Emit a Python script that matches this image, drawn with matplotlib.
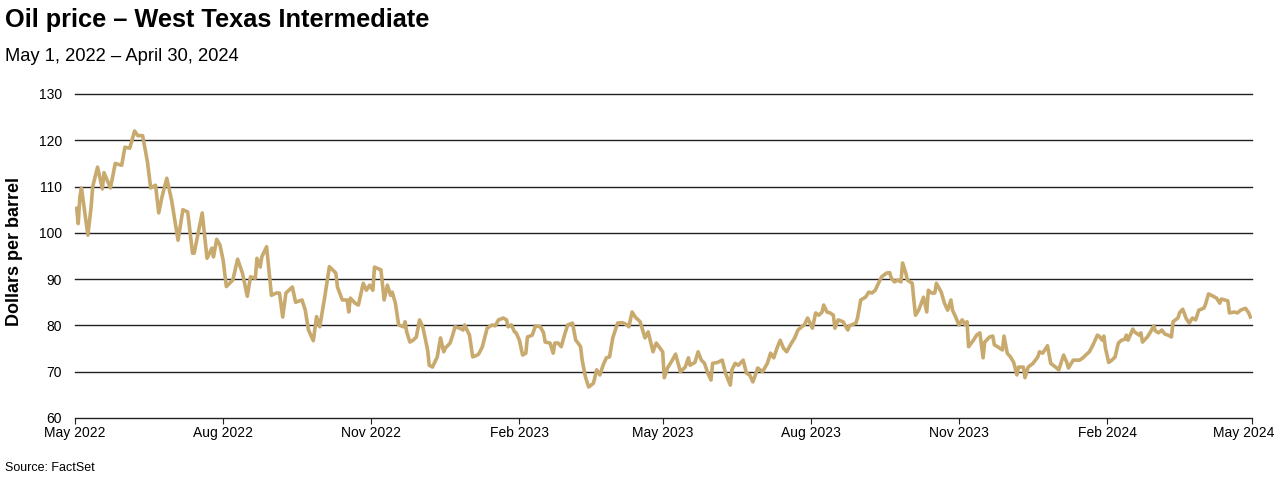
import numpy as np
import pandas as pd
import matplotlib
matplotlib.use('Agg')
import matplotlib.pyplot as plt
import matplotlib.dates as mdates

# days since 2022-05-01 and WTI close (USD per barrel)
days = [1, 2, 3, 4, 8, 10, 11, 14, 17, 18, 22, 25, 29, 31, 34, 37, 39, 42, 45, 47,
        50, 52, 54, 57, 60, 64, 67, 70, 73, 74, 79, 82, 85, 86, 88, 90, 92, 94, 98, 101,
        104, 107, 109, 112, 113, 115, 116, 119, 122, 125, 127, 129, 131, 135, 137, 141, 143, 145, 148, 150,
        152, 155, 158, 162, 163, 166, 169, 170, 171, 174, 176, 179, 181, 183, 185, 186, 190, 192, 194, 196,
        197, 199, 201, 204, 205, 206, 208, 210, 212, 214, 216, 219, 220, 222, 225, 227, 229, 230, 233, 235,
        236, 239, 241, 242, 245, 247, 250, 251, 253, 256, 259, 261, 263, 266, 268, 269, 271, 273, 274, 276,
        278, 280, 281, 284, 286, 289, 291, 292, 295, 297, 298, 300, 302, 304, 306, 309, 311, 312, 314, 315,
        317, 319, 322, 324, 326, 328, 330, 332, 334, 337, 340, 343, 344, 346, 348, 351, 354, 356, 359, 361,
        365, 366, 368, 371, 373, 376, 379, 381, 382, 385, 387, 389, 391, 393, 395, 396, 399, 402, 404, 407,
        408, 410, 412, 415, 417, 419, 421, 423, 424, 427, 430, 432, 434, 436, 438, 440, 442, 445, 447, 449,
        452, 453, 455, 458, 460, 462, 464, 465, 467, 469, 471, 472, 474, 477, 480, 481, 485, 486, 488, 491,
        493, 495, 497, 499, 501, 504, 506, 507, 509, 511, 513, 514, 516, 517, 520, 521, 522, 524, 527, 529,
        530, 532, 534, 535, 538, 540, 542, 544, 545, 547, 549, 551, 553, 554, 555, 558, 560, 562, 564, 565,
        568, 570, 571, 573, 576, 577, 579, 581, 583, 585, 586, 589, 590, 592, 595, 598, 599, 601, 604, 606,
        609, 611, 614, 616, 617, 620, 622, 624, 626, 629, 630, 632, 635, 636, 638, 639, 640, 642, 644, 646,
        648, 650, 652, 653, 654, 657, 658, 661, 662, 663, 666, 668, 670, 671, 673, 675, 677, 679, 681, 682,
        685, 686, 688, 690, 692, 694, 696, 698, 701, 702, 704, 707, 709, 711, 712, 716, 717, 720, 722, 724,
        727, 729, 730]
prices = [105.3, 102.0, 107.7, 109.7, 99.5, 105.6, 110.0, 114.2, 109.5, 113.0, 109.7, 115.0, 114.6, 118.5, 118.3, 122.0, 121.0, 121.0, 115.3, 109.7,
          110.3, 104.3, 107.7, 111.8, 107.0, 98.4, 105.0, 104.5, 95.6, 95.6, 104.3, 94.5, 96.7, 94.8, 98.6, 97.4, 94.1, 88.4, 89.8, 94.3,
          91.3, 86.3, 90.5, 90.2, 94.5, 92.6, 94.8, 97.0, 86.5, 87.0, 87.0, 81.8, 87.0, 88.3, 85.0, 85.5, 83.3, 79.0, 76.7, 81.9,
          79.7, 85.9, 92.7, 91.3, 88.3, 85.5, 85.5, 82.9, 85.9, 84.8, 84.4, 89.1, 87.6, 88.7, 87.6, 92.6, 92.0, 85.5, 88.7, 86.5,
          87.2, 84.8, 80.1, 79.7, 80.8, 78.6, 76.4, 76.8, 77.5, 81.2, 79.7, 74.7, 71.4, 71.0, 73.2, 77.3, 74.3, 75.1, 76.2, 78.4,
          79.7, 79.4, 79.0, 80.1, 77.9, 73.2, 73.6, 74.0, 75.4, 79.4, 80.1, 79.9, 81.2, 81.6, 81.2, 79.7, 80.1, 78.6, 78.4, 76.8,
          73.6, 74.0, 77.5, 77.9, 79.9, 79.7, 78.4, 76.4, 76.2, 74.0, 76.2, 76.2, 75.4, 77.9, 80.1, 80.5, 76.8, 76.4, 75.4, 72.5,
          68.9, 66.7, 67.5, 70.4, 69.3, 71.4, 73.0, 73.2, 77.3, 80.5, 80.6, 80.1, 79.7, 82.9, 81.8, 80.8, 77.3, 78.6, 74.3, 76.2,
          74.3, 68.7, 70.8, 72.5, 73.8, 70.0, 71.0, 73.0, 71.4, 72.0, 74.3, 72.5, 71.8, 69.7, 68.2, 71.8, 72.0, 72.5, 69.7, 67.1,
          70.4, 71.8, 71.4, 72.5, 69.7, 69.3, 67.8, 69.7, 70.8, 70.0, 71.8, 74.0, 73.0, 75.1, 76.8, 75.1, 74.3, 76.2, 77.3, 79.0,
          79.9, 80.1, 81.6, 79.4, 82.7, 82.2, 82.9, 84.4, 82.9, 82.7, 82.2, 79.4, 81.2, 80.8, 79.0, 79.9, 80.5, 81.6, 85.5, 86.1,
          87.2, 87.0, 87.6, 89.1, 90.5, 91.3, 91.4, 90.2, 89.4, 89.8, 89.4, 93.5, 91.3, 89.8, 89.1, 85.5, 82.2, 83.3, 86.1, 82.9,
          87.6, 87.0, 87.0, 89.1, 87.2, 84.8, 83.3, 85.5, 83.3, 81.8, 80.1, 81.2, 80.1, 80.8, 75.4, 76.8, 77.9, 78.4, 73.0, 76.4,
          77.5, 77.7, 75.8, 75.4, 74.7, 77.7, 74.0, 73.2, 72.0, 69.3, 71.0, 71.0, 68.7, 71.0, 71.8, 73.2, 74.3, 74.0, 75.6, 71.8,
          71.0, 70.4, 73.6, 72.0, 70.8, 72.5, 72.5, 72.5, 73.0, 74.0, 74.3, 75.6, 77.9, 77.7, 76.8, 77.7, 75.1, 72.0, 72.5, 73.2,
          76.2, 76.8, 77.0, 77.9, 76.8, 79.2, 78.6, 77.9, 78.4, 76.4, 77.5, 78.6, 79.9, 78.8, 78.4, 79.0, 78.1, 77.9, 77.5, 80.8,
          81.6, 82.7, 83.5, 81.6, 80.5, 81.6, 81.2, 83.3, 83.7, 84.4, 86.8, 86.3, 85.9, 84.8, 85.7, 85.3, 82.7, 82.9, 82.7, 83.3,
          83.7, 82.7, 81.8]

tick_dates = ['2022-05-01', '2022-08-01', '2022-11-01', '2023-02-01', '2023-05-01',
              '2023-08-01', '2023-11-01', '2024-02-01', '2024-05-01']
tick_labels = ['May 2022', 'Aug 2022', 'Nov 2022', 'Feb 2023', 'May 2023',
               'Aug 2023', 'Nov 2023', 'Feb 2024', 'May 2024']
y_ticks = [60, 70, 80, 90, 100, 110, 120, 130]

plt.rcParams['font.family'] = ['Liberation Sans', 'DejaVu Sans']

start = pd.Timestamp('2022-05-01')
dates = start + pd.to_timedelta(days, unit='D')
ticks = pd.to_datetime(tick_dates)

fig = plt.figure(figsize=(12.8, 4.82), dpi=100)
ax = fig.add_axes([0.0586, 0.1328, 0.9195, 0.6722])

for y in y_ticks:
    ax.axhline(y, color='#222222', lw=1.0, zorder=1, clip_on=False)
ax.plot(dates, prices, color='#C8AA6E', lw=2.6, zorder=3, solid_joinstyle='round')

ax.set_ylim(60, 130)
ax.set_xlim(ticks[0], ticks[-1])
ax.set_yticks(y_ticks)
ax.set_xticks(ticks)
ax.set_xticklabels(tick_labels[:-1] + [''])
ax.tick_params(axis='y', length=0, labelsize=10, pad=9.5)
ax.tick_params(axis='x', length=4, width=0.8, color='#222222', labelsize=10, pad=2)
for s in ax.spines.values():
    s.set_visible(False)

# last month label sits a bit inside the figure edge
ax.annotate(tick_labels[-1], xy=(ticks[-1], 60), xytext=(-6, -6), textcoords='offset points',
            ha='center', va='top', fontsize=10, annotation_clip=False)

ax.set_ylabel('Dollars per barrel', fontsize=13, fontweight='bold')
ax.yaxis.set_label_coords(-0.0442, 0.515)

fig.text(0.004, 0.958, 'Oil price \u2013 West Texas Intermediate', fontsize=18.3,
         fontweight='bold', va='center', ha='left')
fig.text(0.004, 0.882, 'May 1, 2022 \u2013 April 30, 2024', fontsize=13.2, va='center', ha='left')
fig.text(0.004, 0.029, 'Source: FactSet', fontsize=9, va='center', ha='left')

fig.savefig('out.png', dpi=100)
